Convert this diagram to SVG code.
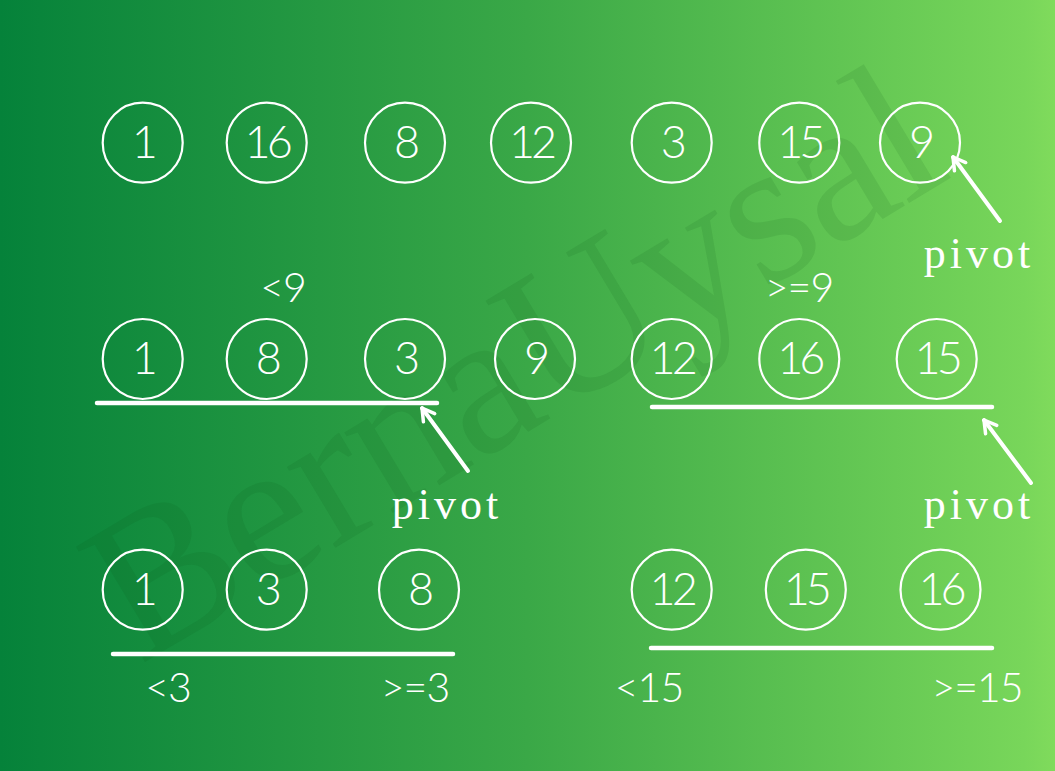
<svg xmlns="http://www.w3.org/2000/svg" width="1055" height="771" viewBox="0 0 1055 771">
<style>
.n circle{fill:none;stroke:#fff;stroke-width:2.2}
.n text{fill:#fff;font-family:Lato,"Liberation Sans",sans-serif;font-weight:300;font-size:45px;text-anchor:middle;letter-spacing:-4px}
.lbl{fill:#fff;font-family:Lato,"Liberation Sans",sans-serif;font-weight:300;font-size:41px;text-anchor:middle;letter-spacing:-1px}
.pv{fill:#fff;font-family:"Liberation Serif",serif;font-size:44px;text-anchor:middle;letter-spacing:4px}
.bar{stroke:#fff;stroke-width:4.5;stroke-linecap:round}
.arr{stroke:#fff;stroke-width:4;stroke-linecap:round;fill:none;marker-end:url(#ah)}
</style>
<defs>
<linearGradient id="bg" x1="0" y1="0" x2="1" y2="0">
<stop offset="0" stop-color="#05823a"/>
<stop offset="0.5" stop-color="#3aa847"/>
<stop offset="0.97" stop-color="#78d65a"/>
<stop offset="1" stop-color="#80db5c"/>
</linearGradient>
<marker id="ah" markerUnits="userSpaceOnUse" viewBox="0 0 18 18" refX="16" refY="9" markerWidth="18" markerHeight="18" orient="auto">
<path d="M4,2 L16,9 L4,16" fill="none" stroke="#fff" stroke-width="3.5" stroke-linecap="round" stroke-linejoin="round"/>
</marker>
</defs>
<rect width="1055" height="771" fill="url(#bg)"/>
<text x="0" y="0" transform="translate(140,665) rotate(-31)" font-family="'Liberation Serif',serif" font-size="205" fill="#0a4a18" fill-opacity="0.1" textLength="950" lengthAdjust="spacing">BernaUysal</text>

<g id="connectors">
<line class="bar" x1="97" y1="403" x2="437" y2="403"/>
<line class="bar" x1="652" y1="407" x2="992" y2="407"/>
<line class="bar" x1="113" y1="654" x2="453" y2="654"/>
<line class="bar" x1="651" y1="648" x2="992" y2="648"/>
<line class="arr" x1="1000" y1="221" x2="953" y2="157"/>
<line class="arr" x1="468" y1="471" x2="422" y2="408"/>
<line class="arr" x1="1031" y1="483" x2="984" y2="420"/>
</g>

<g id="row1">
<g id="r1n1" class="n"><circle cx="142.7" cy="142.7" r="40"/><text x="142.7" y="158">1</text></g>
<g id="r1n16" class="n"><circle cx="266.7" cy="142.7" r="40"/><text x="266.7" y="158">16</text></g>
<g id="r1n8" class="n"><circle cx="405" cy="142.7" r="40"/><text x="405" y="158">8</text></g>
<g id="r1n12" class="n"><circle cx="531" cy="142.7" r="40"/><text x="531" y="158">12</text></g>
<g id="r1n3" class="n"><circle cx="671.7" cy="142.7" r="40"/><text x="671.7" y="158">3</text></g>
<g id="r1n15" class="n"><circle cx="799.3" cy="142.7" r="40"/><text x="799.3" y="158">15</text></g>
<g id="r1n9" class="n"><circle cx="920" cy="142.7" r="40"/><text x="920" y="158">9</text></g>
</g>

<g id="row2">
<g id="r2n1" class="n"><circle cx="142.7" cy="359" r="40"/><text x="142.7" y="374">1</text></g>
<g id="r2n8" class="n"><circle cx="266.7" cy="359" r="40"/><text x="266.7" y="374">8</text></g>
<g id="r2n3" class="n"><circle cx="405" cy="359" r="40"/><text x="405" y="374">3</text></g>
<g id="r2n9" class="n"><circle cx="535" cy="359" r="40"/><text x="535" y="374">9</text></g>
<g id="r2n12" class="n"><circle cx="671.7" cy="359" r="40"/><text x="671.7" y="374">12</text></g>
<g id="r2n16" class="n"><circle cx="799.3" cy="359" r="40"/><text x="799.3" y="374">16</text></g>
<g id="r2n15" class="n"><circle cx="936.7" cy="359" r="40"/><text x="936.7" y="374">15</text></g>
</g>

<g id="row3">
<g id="r3n1" class="n"><circle cx="142.7" cy="589.7" r="40"/><text x="142.7" y="605">1</text></g>
<g id="r3n3" class="n"><circle cx="266.7" cy="589.7" r="40"/><text x="266.7" y="605">3</text></g>
<g id="r3n8" class="n"><circle cx="419" cy="589.7" r="40"/><text x="419" y="605">8</text></g>
<g id="r3n12" class="n"><circle cx="671.7" cy="589.7" r="40"/><text x="671.7" y="605">12</text></g>
<g id="r3n15" class="n"><circle cx="805.8" cy="589.7" r="40"/><text x="805.8" y="605">15</text></g>
<g id="r3n16" class="n"><circle cx="940.5" cy="589.7" r="40"/><text x="940.5" y="605">16</text></g>
</g>

<g id="labels">
<text class="lbl" x="283" y="301.7">&lt;9</text>
<text class="lbl" x="799" y="301.7">&gt;=9</text>
<text class="lbl" x="168" y="701.7">&lt;3</text>
<text class="lbl" x="415" y="701.7">&gt;=3</text>
<text class="lbl" x="649" y="701.7">&lt;15</text>
<text class="lbl" x="977" y="701.7">&gt;=15</text>
<text class="pv" x="979" y="268">pivot</text>
<text class="pv" x="447" y="519">pivot</text>
<text class="pv" x="979" y="519">pivot</text>
</g>
</svg>
